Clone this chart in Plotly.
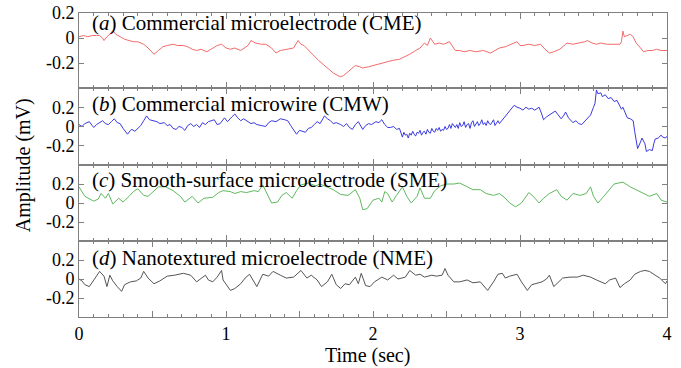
import plotly.graph_objects as go

# ---------------- data ----------------
cme_t = [0.00, 0.03, 0.06, 0.09, 0.12, 0.14, 0.16, 0.17, 0.19, 0.21, 0.23, 0.25, 0.28, 0.31, 0.34, 0.37,
         0.40, 0.44, 0.47, 0.51, 0.54, 0.57, 0.60, 0.64, 0.67, 0.71, 0.74, 0.77, 0.80, 0.83, 0.87, 0.91,
         0.94, 0.97, 1.00, 1.03, 1.06, 1.10, 1.13, 1.15, 1.17, 1.20, 1.24, 1.27, 1.31, 1.34, 1.37, 1.41,
         1.44, 1.46, 1.49, 1.51, 1.53, 1.57, 1.60, 1.63, 1.66, 1.70, 1.73, 1.76, 1.78, 1.80, 1.82, 1.85,
         1.88, 1.91, 1.93, 1.97, 2.00, 2.04, 2.09, 2.13, 2.18, 2.22, 2.25, 2.29, 2.32, 2.35, 2.37, 2.39,
         2.42, 2.45, 2.48, 2.52, 2.54, 2.56, 2.59, 2.62, 2.66, 2.70, 2.75, 2.80, 2.83, 2.86, 2.90, 2.94,
         2.98, 3.00, 3.02, 3.06, 3.10, 3.14, 3.17, 3.20, 3.23, 3.27, 3.30, 3.32, 3.36, 3.41, 3.44, 3.46,
         3.49, 3.52, 3.55, 3.59, 3.63, 3.68, 3.69, 3.70, 3.71, 3.73, 3.75, 3.77, 3.79, 3.82, 3.84, 3.87,
         3.90, 3.93, 3.96, 4.00]
cme_v = [0.01, 0.02, 0.01, 0.02, 0.02, 0.02, 0.00, -0.02, 0.01, 0.03, 0.06, 0.03, 0.01, -0.01, -0.02, -0.03,
         -0.03, -0.05, -0.08, -0.13, -0.10, -0.07, -0.06, -0.05, -0.06, -0.06, -0.07, -0.09, -0.10, -0.09, -0.11, -0.08,
         -0.06, -0.05, -0.08, -0.09, -0.08, -0.10, -0.08, -0.06, -0.02, -0.04, -0.05, -0.05, -0.08, -0.12, -0.10, -0.09,
         -0.08, -0.08, -0.02, -0.05, -0.06, -0.11, -0.15, -0.18, -0.21, -0.25, -0.28, -0.30, -0.31, -0.30, -0.28, -0.25,
         -0.22, -0.23, -0.24, -0.23, -0.22, -0.21, -0.19, -0.18, -0.17, -0.15, -0.13, -0.10, -0.08, -0.04, -0.06, 0.00,
         -0.05, -0.04, -0.05, -0.03, -0.07, -0.10, -0.10, -0.11, -0.10, -0.11, -0.10, -0.12, -0.10, -0.08, -0.07, -0.05,
         -0.03, -0.06, -0.06, -0.05, -0.06, -0.05, -0.09, -0.12, -0.11, -0.09, -0.06, -0.04, -0.05, -0.04, -0.03, -0.02,
         -0.04, -0.05, -0.04, -0.05, -0.05, -0.05, -0.03, 0.055, 0.01, 0.02, 0.03, 0.01, -0.04, -0.08, -0.11, -0.10,
         -0.10, -0.09, -0.10, -0.10]

cmw_t = [0.00, 0.02, 0.04, 0.07, 0.09, 0.10, 0.12, 0.14, 0.16, 0.18, 0.20, 0.22, 0.24, 0.26, 0.28, 0.30,
         0.33, 0.35, 0.36, 0.38, 0.40, 0.42, 0.44, 0.46, 0.48, 0.50, 0.53, 0.55, 0.58, 0.60, 0.62, 0.64,
         0.66, 0.68, 0.70, 0.72, 0.74, 0.76, 0.78, 0.80, 0.82, 0.84, 0.86, 0.88, 0.90, 0.92, 0.94, 0.96,
         0.99, 1.01, 1.04, 1.06, 1.08, 1.10, 1.12, 1.15, 1.17, 1.19, 1.21, 1.24, 1.27, 1.29, 1.31, 1.34,
         1.37, 1.40, 1.42, 1.44, 1.46, 1.48, 1.50, 1.52, 1.54, 1.56, 1.58, 1.60, 1.62, 1.64, 1.67, 1.69,
         1.71, 1.73, 1.75, 1.78, 1.80, 1.82, 1.84, 1.86, 1.88, 1.90, 1.92, 1.93, 1.95, 1.97, 1.99, 2.02,
         2.04, 2.06, 2.08, 2.10, 2.12, 2.14, 2.16, 2.18,
         2.20, 2.21, 2.22, 2.23, 2.24, 2.25, 2.26, 2.27, 2.28, 2.29, 2.30, 2.31, 2.32, 2.33, 2.34, 2.35,
         2.36, 2.37, 2.38, 2.39, 2.40, 2.41, 2.42, 2.43, 2.44, 2.45, 2.46, 2.47, 2.48, 2.49, 2.50, 2.51,
         2.52, 2.53, 2.54, 2.55, 2.56, 2.57, 2.58, 2.59, 2.60, 2.61, 2.62, 2.63, 2.64, 2.65, 2.66, 2.67,
         2.68, 2.69, 2.70, 2.71, 2.72, 2.73, 2.74, 2.75, 2.76, 2.77, 2.78, 2.79, 2.80, 2.81, 2.82, 2.83,
         2.84, 2.85, 2.86, 2.87, 2.88,
         2.90, 2.92, 2.94,
         2.96, 2.98, 3.00, 3.02, 3.04, 3.06, 3.08, 3.10, 3.13, 3.15, 3.16, 3.18, 3.20, 3.22, 3.24, 3.26,
         3.28, 3.30, 3.31, 3.33, 3.36, 3.38, 3.40, 3.42, 3.44, 3.46, 3.48, 3.50, 3.51, 3.52, 3.53, 3.55,
         3.56, 3.58, 3.60, 3.62, 3.64, 3.66, 3.68, 3.69, 3.70, 3.72, 3.73, 3.75, 3.77, 3.78, 3.80, 3.82,
         3.83, 3.85, 3.86, 3.88, 3.90, 3.91, 3.92, 3.94, 3.96, 3.97, 3.99, 4.00]
cmw_v = [0.02, 0.00, 0.03, 0.05, 0.01, -0.01, 0.02, 0.04, 0.06, 0.03, 0.02, 0.05, 0.08, 0.04, 0.03, -0.02,
         -0.08, -0.04, -0.03, -0.05, -0.02, 0.01, 0.06, 0.11, 0.07, 0.06, 0.05, 0.03, 0.04, 0.01, 0.02, -0.02,
         -0.03, 0.00, -0.01, -0.04, 0.01, 0.03, 0.00, 0.02, -0.01, 0.04, 0.02, 0.05, 0.06, 0.07, 0.02, 0.03,
         0.09, 0.05, 0.10, 0.13, 0.09, 0.06, 0.08, 0.05, 0.03, 0.04, 0.02, 0.01, 0.00, 0.04, 0.06, 0.05,
         0.08, 0.07, 0.06, 0.01, -0.03, -0.08, -0.04, -0.05, -0.06, -0.02, -0.01, 0.02, 0.05, 0.03, 0.11, 0.08,
         0.06, 0.03, 0.04, 0.02, 0.00, 0.03, -0.01, -0.03, 0.02, 0.05, 0.00, -0.03, 0.01, 0.03, 0.02, 0.05,
         0.04, 0.07, 0.02, -0.01, -0.01, 0.00, -0.03, -0.02,
         -0.11, -0.06, -0.09, -0.08, -0.12, -0.07, -0.09, -0.05, -0.08, -0.10, -0.06, -0.07, -0.04, -0.09, -0.06, -0.05,
         -0.08, -0.03, -0.06, -0.07, -0.02, -0.05, -0.06, -0.02, -0.04, -0.01, -0.05, -0.03, -0.04, 0.00, -0.03, -0.02,
         0.02, -0.02, 0.03, 0.01, -0.01, 0.02, -0.02, 0.04, 0.00, 0.01, 0.05, -0.01, 0.02, 0.03, -0.02, 0.04,
         0.06, 0.00, 0.02, 0.05, 0.01, 0.03, 0.07, 0.02, 0.04, 0.01, 0.06, 0.03, 0.02, 0.05, 0.07, 0.01,
         0.04, 0.06, 0.03, 0.05, 0.07,
         0.10, 0.15, 0.18,
         0.22, 0.20, 0.19, 0.17, 0.20, 0.18, 0.19, 0.17, 0.20, 0.12, 0.07, 0.10, 0.12, 0.14, 0.16, 0.12,
         0.08, 0.12, 0.15, 0.09, 0.04, 0.06, 0.03, 0.02, 0.05, 0.08, 0.12, 0.20, 0.24, 0.38, 0.34, 0.35,
         0.31, 0.33, 0.29, 0.30, 0.26, 0.27, 0.22, 0.18, 0.20, 0.13, 0.09, 0.08, 0.06, -0.05, -0.23, -0.16,
         -0.12, -0.18, -0.26, -0.24, -0.25, -0.18, -0.13, -0.12, -0.09, -0.11, -0.12, -0.10]

sme_t = [0.00, 0.04, 0.10, 0.13, 0.15, 0.18, 0.20, 0.23, 0.27, 0.30, 0.34, 0.37, 0.40, 0.44, 0.47, 0.51,
         0.54, 0.59, 0.64, 0.69, 0.72, 0.77, 0.81, 0.85, 0.91, 0.95, 0.98, 1.03, 1.06, 1.10, 1.14, 1.19,
         1.22, 1.25, 1.28, 1.31, 1.35, 1.38, 1.41, 1.45, 1.48, 1.51, 1.56, 1.61, 1.64, 1.68, 1.73, 1.78,
         1.83, 1.88, 1.91, 1.93, 1.96, 2.00, 2.04, 2.06, 2.08, 2.10, 2.13, 2.16, 2.20, 2.23, 2.26, 2.30,
         2.32, 2.35, 2.39, 2.42, 2.46, 2.50, 2.55, 2.59, 2.64, 2.68, 2.73, 2.77, 2.82, 2.86, 2.90, 2.93,
         2.97, 3.01, 3.06, 3.09, 3.13, 3.16, 3.20, 3.25, 3.28, 3.32, 3.36, 3.41, 3.45, 3.48, 3.50, 3.53,
         3.57, 3.60, 3.64, 3.70, 3.75, 3.79, 3.84, 3.88, 3.93, 3.96, 4.00]
sme_v = [0.17, 0.07, 0.02, 0.04, 0.10, 0.05, 0.10, -0.01, 0.05, 0.01, 0.07, 0.12, 0.15, 0.08, 0.07, 0.13,
         0.17, 0.17, 0.13, 0.07, 0.01, 0.07, 0.00, 0.05, 0.06, 0.11, 0.13, 0.12, 0.10, 0.12, 0.11, 0.13,
         0.12, 0.19, 0.10, 0.00, 0.01, 0.08, 0.11, 0.05, 0.13, 0.19, 0.21, 0.18, 0.20, 0.17, 0.14, 0.09,
         0.08, 0.14, 0.05, -0.07, -0.06, 0.03, 0.05, 0.01, 0.12, 0.10, 0.01, 0.08, 0.17, 0.07, 0.00, 0.07,
         0.16, 0.05, 0.05, 0.13, 0.18, 0.20, 0.20, 0.21, 0.17, 0.14, 0.14, 0.10, 0.08, 0.10, 0.05, 0.00,
         -0.04, 0.00, 0.11, 0.07, 0.00, 0.05, 0.10, 0.14, 0.07, 0.03, 0.10, 0.08, 0.10, 0.17, 0.07, 0.00,
         0.07, 0.13, 0.20, 0.22, 0.17, 0.14, 0.10, 0.07, 0.10, 0.03, 0.01]

nme_t = [0.00, 0.02, 0.04, 0.07, 0.11, 0.14, 0.17, 0.19, 0.21, 0.23, 0.26, 0.29, 0.31, 0.35, 0.39, 0.42,
         0.44, 0.47, 0.51, 0.55, 0.60, 0.65, 0.71, 0.76, 0.80, 0.83, 0.86, 0.88, 0.91, 0.94, 0.97, 0.98,
         1.03, 1.06, 1.10, 1.13, 1.16, 1.21, 1.25, 1.29, 1.32, 1.37, 1.41, 1.46, 1.51, 1.55, 1.58, 1.62,
         1.65, 1.69, 1.72, 1.75, 1.78, 1.81, 1.84, 1.88, 1.90, 1.92, 1.95, 1.98, 2.01, 2.06, 2.10, 2.14,
         2.17, 2.22, 2.25, 2.29, 2.32, 2.35, 2.40, 2.43, 2.47, 2.49, 2.51, 2.55, 2.59, 2.64, 2.68, 2.73,
         2.78, 2.82, 2.85, 2.88, 2.90, 2.93, 2.98, 3.01, 3.05, 3.08, 3.11, 3.15, 3.18, 3.20, 3.23, 3.26,
         3.29, 3.34, 3.39, 3.43, 3.48, 3.52, 3.58, 3.61, 3.65, 3.68, 3.71, 3.75, 3.78, 3.82, 3.85, 3.88,
         3.92, 3.95, 3.99, 4.00]
nme_v = [0.00, -0.02, -0.06, -0.08, 0.01, 0.08, 0.03, -0.08, 0.04, -0.02, -0.08, -0.13, -0.06, -0.03, -0.02, 0.01,
         0.08, 0.01, -0.05, -0.02, 0.03, 0.04, 0.06, 0.04, -0.03, 0.01, 0.04, -0.01, -0.03, 0.02, 0.09, -0.01,
         -0.12, -0.10, -0.05, 0.01, 0.05, -0.08, 0.05, 0.03, 0.08, 0.04, 0.01, 0.02, 0.09, 0.01, 0.04, -0.01,
         -0.08, -0.03, 0.05, -0.06, -0.10, -0.05, -0.06, 0.02, -0.05, 0.06, -0.07, -0.08, -0.03, 0.02, -0.01, 0.04,
         0.00, 0.02, 0.09, 0.04, 0.05, 0.02, 0.04, 0.03, 0.04, 0.11, 0.04, -0.03, -0.03, -0.01, -0.04, -0.03,
         -0.12, -0.03, 0.05, 0.06, 0.01, 0.03, 0.05, -0.03, -0.12, -0.06, -0.05, -0.03, 0.00, 0.04, -0.08, -0.03,
         0.01, 0.02, 0.02, 0.04, 0.02, -0.01, -0.05, -0.01, 0.01, -0.09, -0.05, -0.01, 0.05, 0.08, 0.09, 0.08,
         0.04, 0.01, -0.05, -0.02]

labels = ["(<i>a</i>) Commercial microelectrode (CME)",
          "(<i>b</i>) Commercial microwire (CMW)",
          "(<i>c</i>) Smooth-surface microelectrode (SME)",
          "(<i>d</i>) Nanotextured microelectrode (NME)"]
series = [(cme_t, cme_v), (cmw_t, cmw_v), (sme_t, sme_v), (nme_t, nme_v)]
colors = ["#f26b6b", "#3a3ae0", "#5fb85f", "#555555"]
y_ranges = [[-0.4, 0.2], [-0.4, 0.4], [-0.4, 0.4], [-0.4, 0.4]]
label_y = [0.86, 0.79, 0.80, 0.78]
# panel domains (bottom, top) in paper fraction
domains = [[0.7533, 1.0], [0.5, 0.7533], [0.25, 0.5], [0.0, 0.25]]

y_tickvals = [-0.2, 0, 0.2]
y_ticktext = ["-0.2", "0", "0.2"]
x_tickvals = [0, 0.5, 1, 1.5, 2, 2.5, 3, 3.5, 4]
x_ticktext = ["0", "", "1", "", "2", "", "3", "", "4"]

FONT = "Liberation Serif, Times New Roman, serif"
AX = "#808080"

fig = go.Figure()
layout = {}
for i, ((t, v), c) in enumerate(zip(series, colors)):
    r = i + 1
    sfx = "" if r == 1 else str(r)
    fig.add_trace(go.Scatter(x=t, y=v, mode="lines", line=dict(color=c, width=1),
                             xaxis="x" + sfx, yaxis="y" + sfx,
                             showlegend=False, hoverinfo="skip"))
    layout["xaxis" + sfx] = dict(
        domain=[0, 1], anchor="y" + sfx, range=[0, 4], automargin=False,
        showline=True, linecolor=AX, linewidth=1, mirror="allticks",
        ticks="inside", ticklen=6, tickcolor=AX, tickwidth=1,
        tickvals=x_tickvals, ticktext=x_ticktext,
        minor=dict(dtick=0.1, tick0=0, ticks="inside", ticklen=3, tickcolor=AX, tickwidth=1),
        showgrid=False, zeroline=False,
        showticklabels=(r == 4), tickfont=dict(family=FONT, size=18, color="black"))
    layout["yaxis" + sfx] = dict(
        domain=domains[i], anchor="x" + sfx, range=y_ranges[i], automargin=False,
        showline=True, linecolor=AX, linewidth=1, mirror="allticks",
        ticks="inside", ticklen=5, tickcolor=AX, tickwidth=1,
        tickvals=y_tickvals, ticktext=y_ticktext,
        showgrid=False, zeroline=False,
        tickfont=dict(family=FONT, size=18, color="black"))
    fig.add_annotation(text=labels[i], xref="x" + sfx + " domain", yref="y" + sfx + " domain",
                       x=0.019, y=label_y[i], xanchor="left", yanchor="middle", showarrow=False,
                       font=dict(family=FONT, size=21, color="black"))

fig.update_layout(**layout)

fig.add_annotation(text="Amplitude (mV)", xref="paper", yref="paper", x=-0.095, y=0.5,
                   textangle=-90, showarrow=False, xanchor="center", yanchor="middle",
                   font=dict(family=FONT, size=20, color="black"))
fig.add_annotation(text="Time (sec)", xref="paper", yref="paper", x=0.49, y=-0.125,
                   showarrow=False, xanchor="center", yanchor="middle",
                   font=dict(family=FONT, size=20, color="black"))

fig.update_layout(width=681, height=368, margin=dict(l=79, r=14, t=13, b=51),
                  paper_bgcolor="white", plot_bgcolor="white")

fig.write_html("out.html")
